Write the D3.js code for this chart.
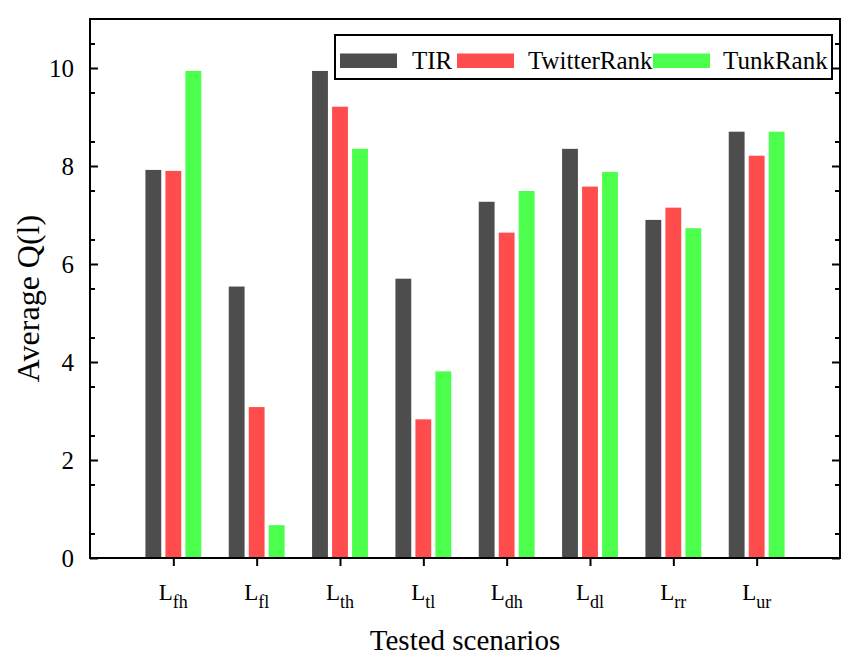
<!DOCTYPE html>
<html>
<head>
<meta charset="utf-8">
<script src="https://cdn.jsdelivr.net/npm/d3@7"></script>
<style>
  body { margin: 0; background: #fff; }
  text { font-family: "Liberation Serif", "Times New Roman", serif; fill: #000; }
</style>
</head>
<body>
<svg id="chart" width="861" height="667"></svg>
<script>
// data
const scenarios = ["fh", "fl", "th", "tl", "dh", "dl", "rr", "ur"];
const seriesNames = ["TIR", "TwitterRank", "TunkRank"];
const seriesColors = ["#4d4d4d", "#ff4d4d", "#4dff4d"];
const tirValues = [7.92, 5.54, 9.94, 5.70, 7.27, 8.35, 6.90, 8.70];
const twitterRankValues = [7.90, 3.08, 9.21, 2.83, 6.64, 7.58, 7.15, 8.21];
const tunkRankValues = [9.94, 0.67, 8.35, 3.81, 7.49, 7.88, 6.73, 8.70];
const yMajorTicks = [0, 2, 4, 6, 8, 10];
const yMinorTicks = d3.range(0.5, 11, 1);

const allSeries = [tirValues, twitterRankValues, tunkRankValues];

const svg = d3.select("#chart");
const plotL = 90, plotR = 840, plotT = 19, plotB = 558;

const x = d3.scaleLinear().domain([0, 9]).range([plotL, plotR]);
const y = d3.scaleLinear().domain([0, 11]).range([plotB, plotT]);

const barW = 0.19;   // in category units
const barStep = 0.24;

// bars
allSeries.forEach(function(vals, si) {
  svg.append("g")
    .selectAll("rect")
    .data(vals)
    .enter()
    .append("rect")
    .attr("x", (d, i) => x(i + 1 + (si - 1) * barStep - barW / 2))
    .attr("width", x(barW) - x(0))
    .attr("y", d => y(d))
    .attr("height", d => y(0) - y(d))
    .attr("fill", seriesColors[si]);
});

// axes
function styleAxis(g) {
  g.selectAll("path, line").attr("stroke", "#000").attr("stroke-width", 2);
  g.select(".domain").remove();
}

svg.append("g")
  .attr("transform", `translate(${plotL},0)`)
  .call(d3.axisLeft(y).tickValues(yMajorTicks).tickSizeInner(-8).tickPadding(16).tickFormat(d3.format("d")))
  .call(styleAxis)
  .call(g => g.selectAll("text")
    .style("font-family", "Liberation Serif")
    .style("font-size", "25px")
    .attr("dy", "0.34em"));

svg.append("g")
  .attr("transform", `translate(${plotL},0)`)
  .call(d3.axisLeft(y).tickValues(yMinorTicks).tickSizeInner(-5).tickFormat(""))
  .call(styleAxis);

svg.append("g")
  .attr("transform", `translate(${plotR},0)`)
  .call(d3.axisRight(y).tickValues(yMajorTicks).tickSizeInner(-8).tickFormat(""))
  .call(styleAxis);

svg.append("g")
  .attr("transform", `translate(${plotR},0)`)
  .call(d3.axisRight(y).tickValues(yMinorTicks).tickSizeInner(-5).tickFormat(""))
  .call(styleAxis);

svg.append("g")
  .attr("transform", `translate(0,${plotB})`)
  .call(d3.axisBottom(x).tickValues(d3.range(1, scenarios.length + 1)).tickSizeInner(8).tickFormat(""))
  .call(styleAxis);

// frame
svg.append("rect")
  .attr("x", plotL).attr("y", plotT)
  .attr("width", plotR - plotL).attr("height", plotB - plotT)
  .attr("fill", "none").attr("stroke", "#000").attr("stroke-width", 2);

// x tick labels with subscripts
const xLab = svg.append("g")
  .selectAll("text")
  .data(scenarios)
  .enter()
  .append("text")
  .attr("x", (d, i) => x(i + 1))
  .attr("y", 600)
  .attr("text-anchor", "middle")
  .style("font-size", "23px");
xLab.append("tspan").text("L");
xLab.append("tspan").attr("dy", 8).style("font-size", "18px").text(d => d);

// axis titles
svg.append("text")
  .attr("x", (plotL + plotR) / 2)
  .attr("y", 650)
  .attr("text-anchor", "middle")
  .style("font-size", "29px")
  .text("Tested scenarios");

svg.append("text")
  .attr("transform", `translate(39,${(plotT + plotB) / 2 + 10}) rotate(-90)`)
  .attr("text-anchor", "middle")
  .style("font-size", "32px")
  .text("Average Q(l)");

// legend
const legend = svg.append("g");
legend.append("rect")
  .attr("x", 335).attr("y", 35)
  .attr("width", 497).attr("height", 44)
  .attr("fill", "#fff").attr("stroke", "#000").attr("stroke-width", 2);

const legendSwatchX = [340, 457, 653];
const legendTextX = [412, 528, 723];
seriesNames.forEach(function(name, i) {
  legend.append("rect")
    .attr("x", legendSwatchX[i]).attr("y", 53.5)
    .attr("width", 57).attr("height", 14.5)
    .attr("fill", seriesColors[i]);
  legend.append("text")
    .attr("x", legendTextX[i]).attr("y", 69)
    .style("font-size", "25px")
    .text(name);
});
</script>
</body>
</html>
